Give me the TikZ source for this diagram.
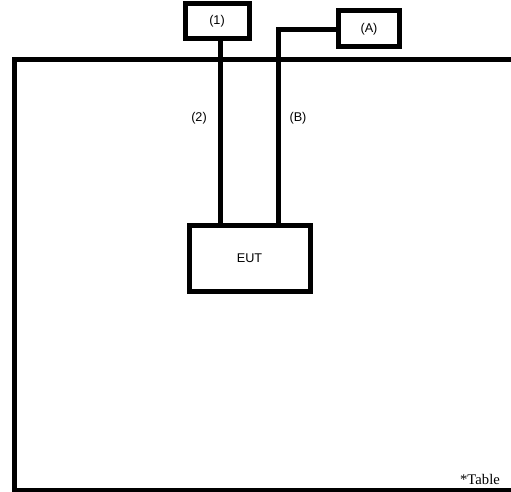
\documentclass[tikz,border=0pt]{standalone}
\usepackage{fontspec}
\setmainfont{Liberation Sans}
\newfontfamily\tabfont{Liberation Serif}
\begin{document}
\begin{tikzpicture}[x=0.75pt,y=-0.75pt,
  thick line/.style={line width=3.75pt},
  boxstyle/.style={draw,line width=3.75pt,inner sep=0pt,font=\fontsize{9.5pt}{11pt}\selectfont},
  lbl/.style={font=\fontsize{9.5pt}{11pt}\selectfont,inner sep=0pt}]
\useasboundingbox (0,0) rectangle (511,492);
% table
\draw[thick line] (520,60) -- (14,60) -- (14,490) -- (520,490);
% boxes
\node[boxstyle,minimum width=48pt,minimum height=26.25pt] (one) at (217,21) {(1)};
\node[boxstyle,minimum width=45.75pt,minimum height=27pt] (A) at (369,29) {(A)};
\node[boxstyle,minimum width=90.75pt,minimum height=49.5pt] (eut) at (249.5,258) {EUT};
% connectors
\coordinate (bend) at (278,30);
\draw[thick line] (one.south -| 220,0) -- (eut.north -| 220,0);
\draw[thick line] (eut.north -| 278,0) -- (bend) -- (bend -| A.west);
% labels
\node[lbl] (l2) at (199,118) {(2)};
\node[lbl] (lB) at (298,118) {(B)};
\node[font=\tabfont\fontsize{11pt}{13pt}\selectfont,inner sep=0pt] (tab) at (480,479) {*Table};
\end{tikzpicture}
\end{document}
